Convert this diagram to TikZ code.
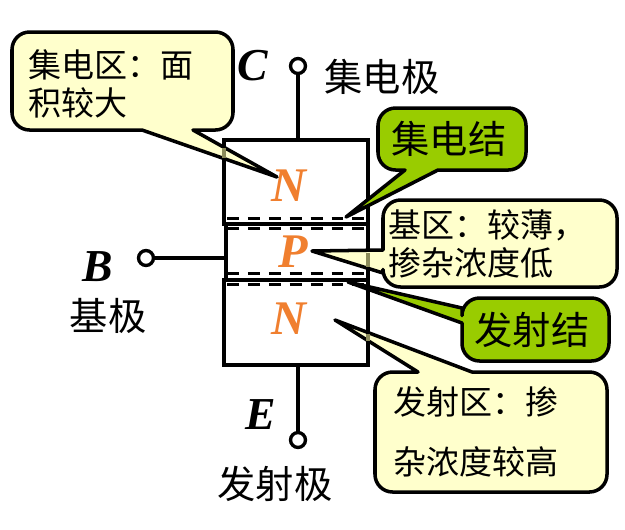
\documentclass[tikz,border=0pt]{standalone}
\usepackage{fontspec}
\setmainfont{Liberation Serif}
\newfontfamily\cjk{Noto Sans CJK SC}
\definecolor{notegreen}{HTML}{99CC00}
\definecolor{noteyellow}{HTML}{FFFFCC}
\definecolor{dopeorange}{HTML}{F07F2F}
\definecolor{seethrough}{HTML}{8C8C5A}
\tikzset{region/.style = {draw, line width = 2.2pt, inner sep = 0pt, outer sep = 0pt, anchor = north west},
         junction/.style = {line width = 1.8pt, dash pattern = on 6.8pt off 5.1pt},
         pin/.style = {draw, circle, line width = 1.9pt, fill = white, minimum size = 8.5pt, inner sep = 0pt},
         lead/.style = {line width = 2.4pt},
         yellownote/.style = {fill = noteyellow, draw, line width = 2pt, line join = round},
         greennote/.style = {fill = notegreen, draw, line width = 2pt, line join = round},
         notetext/.style = {font = \cjk\fontsize{18.8}{22}\selectfont, anchor = west, inner sep = 0pt},
         termtext/.style = {font = \cjk\fontsize{21.8}{25}\selectfont, inner sep = 0pt},
         pole/.style = {font = \fontsize{26}{30}\selectfont\bfseries\itshape, inner sep = 0pt},
         dope/.style = {font = \fontsize{27.5}{30}\selectfont\bfseries\itshape, text = dopeorange, inner sep = 0pt}}

\begin{document}
\begin{tikzpicture}[x = 0.02cm, y = -0.02cm]
  \useasboundingbox (0, 0) rectangle (625, 529);
  \node [region, minimum width = 144*0.02cm, minimum height = 84*0.02cm] (regionC) at (224, 140) {};
  \node [region, minimum width = 142*0.02cm, minimum height = 56*0.02cm] (regionB) at (226, 224) {};
  \node [region, minimum width = 144*0.02cm, minimum height = 85*0.02cm] (regionE) at (224, 280) {};
  \draw [junction] (227, 218.5) -- (366, 218.5);
  \draw [junction] (227, 228.5) -- (366, 228.5);
  \draw [junction] (227, 273.5) -- (366, 273.5);
  \draw [junction] (227, 284.5) -- (366, 284.5);
  \node [pin] (pinC) at (298, 66) {};
  \node [pin] (pinB) at (146, 258) {};
  \node [pin] (pinE) at (298, 440) {};
  \draw [lead] (pinC) -- (pinC |- regionC.north);
  \draw [lead] (pinB) -- (pinB -| regionB.west);
  \draw [lead] (pinE) -- (pinE |- regionE.south);
  \node [pole] (labelC) at (253, 66) {C};
  \node [pole] (labelB) at (98, 267) {B};
  \node [pole] (labelE) at (261, 415) {E};
  \node [termtext] (termC) at (382, 77) {集电极};
  \node [termtext] (termB) at (108, 316) {基极};
  \node [termtext] (termE) at (275, 484) {发射极};
  \node [dope] (dopeC) at (289, 186) {N};
  \node [dope] (dopeB) at (293, 252) {P};
  \node [dope] (dopeE) at (289, 319) {N};
  \draw [yellownote] (277, 177) -- (142, 130) [rounded corners = 10pt] -- (12, 130) -- (12, 32) -- (233, 32) -- (233, 130) [sharp corners] -- (193, 130) -- cycle;
  \draw [seethrough, line width = 2.2pt] (224, 148) -- (224, 158);
  \node [notetext] (noteC) at (28, 65) {集电区\char"FF1A 面};
  \node [notetext] (noteCb) at (28, 103) {积较大};
  \draw [yellownote] (312, 251) -- (383, 250) [rounded corners = 10pt] -- (383, 200) -- (617, 200) -- (617, 287) -- (383, 287) [sharp corners] -- (383, 273) -- cycle;
  \draw [seethrough, line width = 2.2pt] (368, 253) -- (368, 267);
  \node [notetext] (noteB) at (388, 225) {基区\char"FF1A 较薄\char"FF0C\relax};
  \node [notetext] (noteBb) at (388, 263) {掺杂浓度低};
  \draw [yellownote] (335, 320) -- (418, 372) [rounded corners = 10pt] -- (375, 372) -- (375, 492) -- (607, 492) -- (607, 372) [sharp corners] -- (472, 372) -- cycle;
  \draw [seethrough, line width = 2.2pt] (368, 334) -- (368, 341);
  \node [notetext] (noteE) at (393, 402) {发射区\char"FF1A 掺};
  \node [notetext] (noteEb) at (393, 462) {杂浓度较高};
  \draw [greennote] (346, 217) -- (405, 170) [rounded corners = 10pt] -- (378, 170) -- (378, 108) -- (526, 108) -- (526, 170) [sharp corners] -- (438, 170) -- cycle;
  \node [termtext] (noteJC) at (449, 139) {集电结};
  \draw [greennote] (348, 282) -- (462, 308) [rounded corners = 10pt] -- (462, 298) -- (609, 298) -- (609, 361) -- (462, 361) [sharp corners] -- (462, 323) -- cycle;
  \node [termtext] (noteJE) at (532, 330) {发射结};
\end{tikzpicture}
\end{document}
